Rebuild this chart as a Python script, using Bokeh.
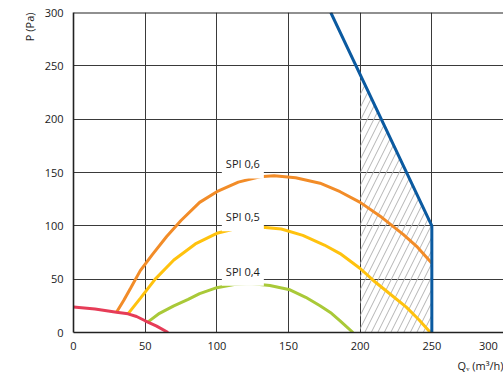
from bokeh.plotting import figure
from bokeh.models import Range1d, FixedTicker, Label, Span, Title
from bokeh.embed import file_html
from bokeh.resources import INLINE

# ---- data ----
x_ticks = [0, 50, 100, 150, 200, 250, 300]
y_ticks = [0, 50, 100, 150, 200, 250, 300]

red_x = [0, 15, 30, 38, 44, 50, 58, 66]
red_y = [24, 22, 19, 17.5, 15, 11, 6, 0]

spi06_x = [30, 35, 40, 46.6, 55, 65, 75, 88, 100, 115, 130, 140, 155, 172, 186, 200, 215, 230, 240, 250]
spi06_y = [19, 30, 42, 58, 73, 90, 105, 122, 132, 141, 146, 147, 145, 140, 132, 122, 108, 92, 80, 65]

spi05_x = [38, 46.6, 57, 70, 85, 100, 115, 130, 145, 160, 175, 186, 200, 209, 220, 232, 241, 249]
spi05_y = [17.5, 32, 50, 68, 83, 93, 98, 99, 97, 91, 82, 74, 60, 49, 37, 24, 12, 0]

spi04_x = [52, 60, 70, 80, 88, 100, 112, 123, 137, 151, 162, 172, 180, 186, 195]
spi04_y = [10, 18, 25, 31, 36.5, 42, 45, 46, 44, 40, 33, 25, 18, 11, 0]

limit_x = [179.5, 250, 250]
limit_y = [300, 100, 0]

hatch_x = [200, 200, 250, 250]
hatch_y = [0, 243, 100, 0]

spi_labels = ["SPI 0,6", "SPI 0,5", "SPI 0,4"]
spi_label_x = [103.5, 103.5, 103.5]
spi_label_y = [158, 108.5, 57.5]

x_title = "Q\u1d65 (m³/h)"
y_title = "P (Pa)"

FONT = "Open Sans"
TXT = "#1a1a1a"

p = figure(width=503, height=372, x_range=Range1d(0, 300), y_range=Range1d(0, 300),
           output_backend="svg", toolbar_location=None,
           min_border_left=73, min_border_right=0, min_border_top=12, min_border_bottom=40)
p.outline_line_color = None
p.background_fill_color = "white"
p.border_fill_color = "white"

for ax in (p.xaxis[0], p.yaxis[0]):
    ax.axis_line_color = "#222222"
    ax.axis_line_width = 1.6
    ax.major_tick_line_color = None
    ax.minor_tick_line_color = None
    ax.major_tick_out = 0
    ax.major_tick_in = 0
    ax.major_label_text_font = FONT
    ax.major_label_text_font_size = "11px"
    ax.major_label_text_color = TXT
p.xaxis.ticker = FixedTicker(ticks=x_ticks)
p.yaxis.ticker = FixedTicker(ticks=y_ticks)
# the last x label sits at the window edge: pad it so it stays readable
p.xaxis.major_label_overrides = {300: "300" + "\u00a0" * 2}
p.xaxis.major_label_standoff = 5
p.yaxis.major_label_standoff = 10

p.xgrid.ticker = FixedTicker(ticks=x_ticks[1:-1])
p.ygrid.ticker = FixedTicker(ticks=y_ticks[1:-1])
for g in (p.xgrid[0], p.ygrid[0]):
    g.grid_line_color = "#3a3a3a"
    g.grid_line_width = 1

p.add_layout(Span(location=300, dimension="width", line_color="#222222", line_width=2))

# hatched operating area
p.patch(hatch_x, hatch_y, fill_alpha=0, line_color=None,
        hatch_pattern="/", hatch_color="#b4b4b4", hatch_scale=13, hatch_weight=1)

p.line(spi06_x, spi06_y, line_color="#f28c28", line_width=3)
p.line(spi05_x, spi05_y, line_color="#ffc20e", line_width=3)
p.line(spi04_x, spi04_y, line_color="#a9c938", line_width=3)
p.line(red_x, red_y, line_color="#e63c57", line_width=3)
p.line(limit_x, limit_y, line_color="#0b5aa0", line_width=3)

for t, lx, ly in zip(spi_labels, spi_label_x, spi_label_y):
    p.add_layout(Label(x=lx, y=ly, text=t, text_font=FONT, text_font_size="11px",
                       text_color=TXT, text_align="left", text_baseline="middle",
                       background_fill_color="white", padding=(4, 7)))

p.add_layout(Title(text=y_title, align="right", offset=0, standoff=10, text_font=FONT,
                   text_font_size="11px", text_font_style="normal", text_color=TXT), "left")
p.add_layout(Title(text=x_title, align="right", offset=0, standoff=0, text_font=FONT,
                   text_font_size="11px", text_font_style="normal", text_color=TXT), "below")

open("out.html", "w").write(file_html(p, INLINE))
